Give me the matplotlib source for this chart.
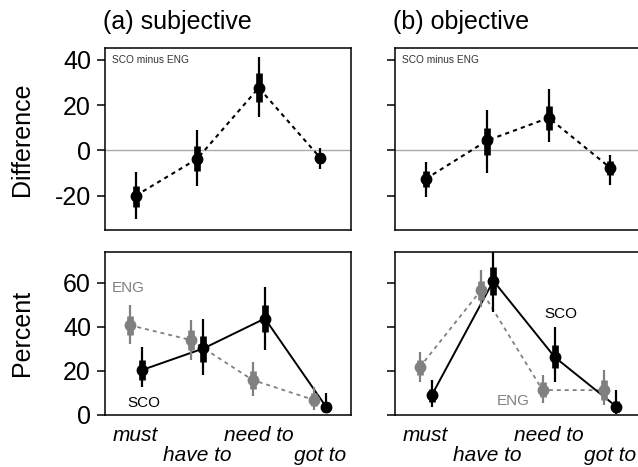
import matplotlib
matplotlib.use("Agg")
import matplotlib.pyplot as plt
import numpy as np

plt.rcParams['font.family'] = ['Liberation Sans', 'DejaVu Sans']
plt.rcParams['axes.unicode_minus'] = False

categories = ["must", "have to", "need to", "got to"]

# Difference (SCO minus ENG)
diff_subj = [-20.0, -3.7, 27.7, -3.3]
diff_subj_lo95 = [-30.4, -15.6, 14.8, -8.1]
diff_subj_hi95 = [-9.6, 8.9, 41.2, 1.0]
diff_subj_lo50 = [-25.2, -9.2, 21.5, -5.5]
diff_subj_hi50 = [-15.6, 1.8, 34.1, -1.0]

diff_obj = [-12.6, 4.4, 14.4, -7.7]
diff_obj_lo95 = [-20.4, -10.1, 3.7, -15.2]
diff_obj_hi95 = [-5.2, 17.8, 27.0, -1.9]
diff_obj_lo50 = [-16.3, -2.2, 9.2, -11.0]
diff_obj_hi50 = [-9.2, 10.1, 19.6, -4.5]

# Percent
eng_subj = [40.8, 34.0, 15.9, 6.8]
eng_subj_lo95 = [32.2, 24.9, 8.6, 2.3]
eng_subj_hi95 = [49.9, 43.1, 24.2, 12.8]
eng_subj_lo50 = [36.3, 29.5, 12.0, 4.0]
eng_subj_hi50 = [44.9, 38.5, 20.0, 10.0]

sco_subj = [20.4, 30.2, 43.8, 3.5]
sco_subj_lo95 = [12.8, 18.1, 29.5, 0.8]
sco_subj_hi95 = [31.0, 43.8, 58.2, 9.8]
sco_subj_lo50 = [16.0, 24.0, 37.8, 1.5]
sco_subj_hi50 = [25.0, 36.0, 49.9, 6.0]

eng_obj = [21.6, 56.7, 11.3, 11.3]
eng_obj_lo95 = [15.1, 49.1, 5.3, 4.5]
eng_obj_hi95 = [28.7, 65.8, 18.1, 20.4]
eng_obj_lo50 = [18.0, 52.0, 8.0, 7.0]
eng_obj_hi50 = [25.0, 61.0, 15.0, 16.0]

sco_obj = [9.1, 60.9, 26.2, 3.8]
sco_obj_lo95 = [3.8, 46.8, 15.1, 0.5]
sco_obj_hi95 = [15.9, 76.0, 39.8, 11.3]
sco_obj_lo50 = [6.0, 54.4, 21.2, 1.5]
sco_obj_hi50 = [12.0, 67.3, 31.7, 6.5]

W, H = 638, 467
fig = plt.figure(figsize=(W / 100, H / 100), dpi=100)

def frac(x0, y0, x1, y1):
    return [x0 / W, 1 - y1 / H, (x1 - x0) / W, (y1 - y0) / H]

ax_tl = fig.add_axes(frac(105, 48, 351, 230))
ax_tr = fig.add_axes(frac(395, 48, 641, 230))
ax_bl = fig.add_axes(frac(105, 252, 351, 415))
ax_br = fig.add_axes(frac(395, 252, 641, 415))

GRAY = '#808080'
x = np.arange(1, len(categories) + 1)


def series(ax, xs, y, lo95, hi95, lo50, hi50, color, ls, dashes=None, lw=1.4):
    kw = {}
    if dashes is not None:
        kw['dashes'] = dashes
    ax.plot(xs, y, color=color, lw=lw, ls=ls, zorder=2, **kw)
    ax.vlines(xs, lo95, hi95, color=color, lw=1.6, zorder=3)
    ax.vlines(xs, lo50, hi50, color=color, lw=4.8, zorder=3)
    ax.plot(xs, y, 'o', color=color, ms=7.5, zorder=4, lw=0)


def style(ax, left_labels):
    for s in ax.spines.values():
        s.set_linewidth(1.1)
    ax.set_xlim(0.5, 4.5)
    ax.tick_params(axis='y', direction='out', length=6, width=1.1,
                   labelsize=18, pad=4, labelleft=left_labels)


for ax, d, lo95, hi95, lo50, hi50, lab in [
    (ax_tl, diff_subj, diff_subj_lo95, diff_subj_hi95, diff_subj_lo50, diff_subj_hi50, True),
    (ax_tr, diff_obj, diff_obj_lo95, diff_obj_hi95, diff_obj_lo50, diff_obj_hi50, False),
]:
    ax.axhline(0, color='#aaaaaa', lw=1.0, zorder=1)
    series(ax, x, d, lo95, hi95, lo50, hi50, 'black', '--', dashes=(2, 2), lw=1.5)
    style(ax, lab)
    ax.set_ylim(-35.2, 45.3)
    ax.set_yticks([-20, 0, 20, 40])
    ax.set_xticks([])
    ax.text(0.028, 0.934, 'SCO minus ENG', transform=ax.transAxes,
            fontsize=7.3, color='#333333', ha='left', va='center')

off = 0.1
for ax, e, elo95, ehi95, elo50, ehi50, s, slo95, shi95, slo50, shi50, lab in [
    (ax_bl, eng_subj, eng_subj_lo95, eng_subj_hi95, eng_subj_lo50, eng_subj_hi50,
     sco_subj, sco_subj_lo95, sco_subj_hi95, sco_subj_lo50, sco_subj_hi50, True),
    (ax_br, eng_obj, eng_obj_lo95, eng_obj_hi95, eng_obj_lo50, eng_obj_hi50,
     sco_obj, sco_obj_lo95, sco_obj_hi95, sco_obj_lo50, sco_obj_hi50, False),
]:
    series(ax, x - off, e, elo95, ehi95, elo50, ehi50, GRAY, '--', dashes=(2.2, 2.2), lw=1.3)
    series(ax, x + off, s, slo95, shi95, slo50, shi50, 'black', '-', lw=1.4)
    style(ax, lab)
    ax.set_ylim(0, 74)
    ax.set_yticks([0, 20, 40, 60])
    ax.set_xticks(x[0::2], categories[0::2])
    ax.set_xticks(x[1::2], categories[1::2], minor=True)
    ax.tick_params(axis='x', which='both', length=0, labelsize=15)
    ax.tick_params(axis='x', which='major', pad=8)
    ax.tick_params(axis='x', which='minor', pad=22)
    for t in ax.get_xticklabels(which='both'):
        t.set_fontstyle('italic')

ax_bl.text(0.88, 57.6, 'ENG', color=GRAY, fontsize=11, ha='center', va='center')
ax_bl.text(1.124, 5.4, 'SCO', color='black', fontsize=11, ha='center', va='center')
ax_br.text(3.2, 45.8, 'SCO', color='black', fontsize=11, ha='center', va='center')
ax_br.text(2.42, 6.5, 'ENG', color=GRAY, fontsize=11, ha='center', va='center')

fig.text(103 / W, 1 - 22 / H, '(a) subjective', fontsize=18, ha='left', va='center')
fig.text(393 / W, 1 - 22 / H, '(b) objective', fontsize=18, ha='left', va='center')
fig.text(22 / W, 1 - 139 / H, 'Difference', fontsize=18, rotation=90, ha='center', va='center')
fig.text(22 / W, 1 - 333 / H, 'Percent', fontsize=18, rotation=90, ha='center', va='center')

fig.savefig('out.png', dpi=100)
